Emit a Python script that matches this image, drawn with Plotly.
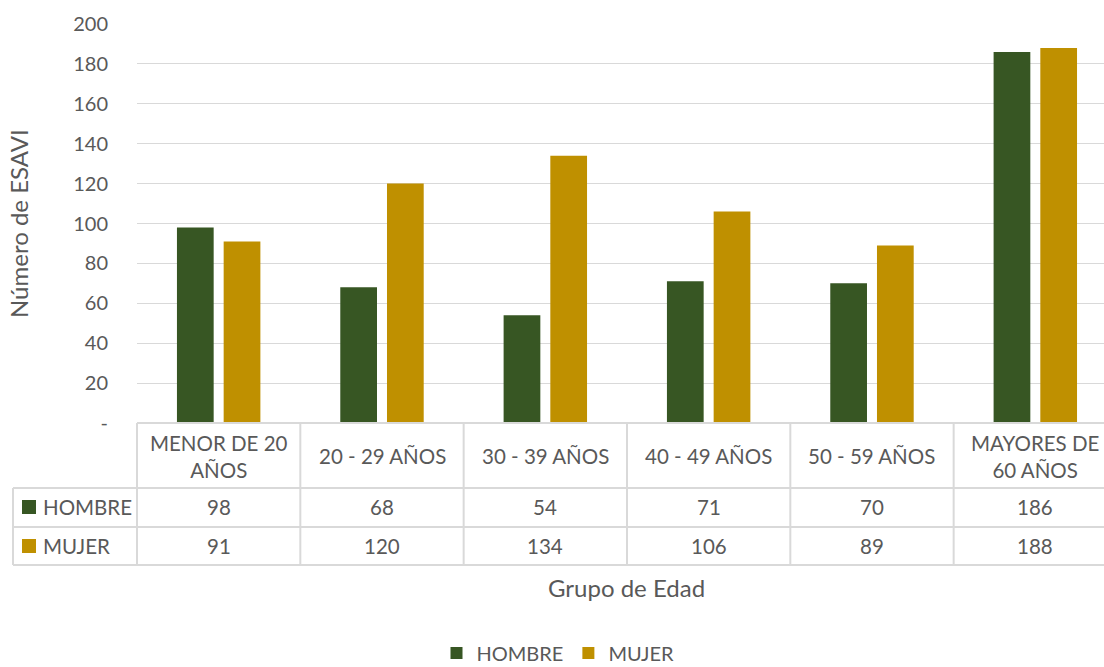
import plotly.graph_objects as go

categories = ["MENOR DE 20 AÑOS", "20 - 29 AÑOS", "30 - 39 AÑOS", "40 - 49 AÑOS", "50 - 59 AÑOS", "MAYORES DE 60 AÑOS"]
category_labels = ["MENOR DE 20<br>AÑOS", "20 - 29 AÑOS", "30 - 39 AÑOS", "40 - 49 AÑOS", "50 - 59 AÑOS", "MAYORES DE<br>60 AÑOS"]
hombre = [98, 68, 54, 71, 70, 186]
mujer = [91, 120, 134, 106, 89, 188]
series_names = ["HOMBRE", "MUJER"]
y_tickvals = [0, 20, 40, 60, 80, 100, 120, 140, 160, 180, 200]
y_ticktext = ["-", "20", "40", "60", "80", "100", "120", "140", "160", "180", "200"]

colors = ["#375623", "#BF9000"]
text_color = "#595959"
grid_color = "#D9D9D9"
FONT = "Lato"

W, H = 1104, 667
L, R, T, B = 137, 0, 24, 244
PW = W - L - R
PH = H - T - B
cat_w = 163.33

def px(xp):
    return (xp - L) / PW

def py(yp):
    return (H - B - yp) / PH

x_idx = list(range(len(categories)))

fig = go.Figure()
for name, vals, c in zip(series_names, [hombre, mujer], colors):
    fig.add_trace(go.Bar(x=x_idx, y=vals, name=name, marker=dict(color=c, line=dict(width=0))))

x_end = 5.5 - (cat_w * 6 - PW) / cat_w

shapes = []
line = dict(color=grid_color, width=2)
shapes.append(dict(type="line", xref="paper", yref="paper", x0=0, x1=1.02, y0=py(423), y1=py(423), line=line))
for yy in [488, 527, 565]:
    shapes.append(dict(type="line", xref="paper", yref="paper", x0=px(13), x1=1.02, y0=py(yy), y1=py(yy), line=line))
shapes.append(dict(type="line", xref="paper", yref="paper", x0=px(13), x1=px(13), y0=py(488), y1=py(565), line=line))
shapes.append(dict(type="line", xref="paper", yref="paper", x0=0, x1=0, y0=py(423), y1=py(565), line=line))
for i in range(len(categories) - 1):
    shapes.append(dict(type="line", xref="x", yref="paper", x0=i + 0.5, x1=i + 0.5, y0=py(423), y1=py(565), line=line))
for k, yy in enumerate([507, 546]):
    shapes.append(dict(type="rect", xref="paper", yref="paper", x0=px(22), x1=px(36), y0=py(yy - 7), y1=py(yy + 7),
                       fillcolor=colors[k], line=dict(width=0)))

annotations = []
tf = dict(family=FONT, size=20.5, color=text_color)
for i, lab in enumerate(category_labels):
    annotations.append(dict(xref="x", yref="paper", x=i, y=py(456), text=lab, showarrow=False, font=tf,
                            xanchor="center", yanchor="middle", align="center"))
    annotations.append(dict(xref="x", yref="paper", x=i, y=py(507), text=str(hombre[i]), showarrow=False, font=tf,
                            xanchor="center", yanchor="middle"))
    annotations.append(dict(xref="x", yref="paper", x=i, y=py(546), text=str(mujer[i]), showarrow=False, font=tf,
                            xanchor="center", yanchor="middle"))
for k, yy in enumerate([507, 546]):
    annotations.append(dict(xref="paper", yref="paper", x=px(41), y=py(yy), text=series_names[k], showarrow=False,
                            font=tf, xanchor="left", yanchor="middle"))
annotations.append(dict(xref="paper", yref="paper", x=px(18), y=py(224), text="Número de ESAVI", textangle=-90,
                        showarrow=False, font=dict(family=FONT, size=24, color=text_color), xanchor="center", yanchor="middle"))
annotations.append(dict(xref="paper", yref="paper", x=px(626), y=py(587), text="Grupo de Edad",
                        showarrow=False, font=dict(family=FONT, size=24, color=text_color), xanchor="center", yanchor="middle"))

fig.update_layout(
    width=W, height=H,
    margin=dict(l=L, r=R, t=T, b=B, autoexpand=False),
    paper_bgcolor="white", plot_bgcolor="white",
    barmode="group", bargap=0.428, bargroupgap=0.214,
    font=dict(family=FONT, size=20, color=text_color),
    xaxis=dict(range=[-0.5, x_end], showticklabels=False, showgrid=False, zeroline=False, showline=False, fixedrange=True),
    yaxis=dict(range=[0, 200], tickvals=y_tickvals, ticktext=y_ticktext, showgrid=True, gridcolor=grid_color, gridwidth=1,
               zeroline=False, showline=False, ticks="outside", ticklen=24, tickcolor="rgba(0,0,0,0)",
               tickfont=dict(family=FONT, size=20, color=text_color), automargin=False),
    showlegend=True,
    legend=dict(orientation="h", xref="paper", yref="paper", x=px(558), y=py(653), xanchor="center", yanchor="middle",
                font=dict(family=FONT, size=20, color=text_color), itemwidth=30, traceorder="normal",
                tracegroupgap=0, borderwidth=0),
    shapes=shapes, annotations=annotations,
)

fig.write_html("out.html", config={"displayModeBar": False},
               post_script="document.body.style.margin='0';document.body.style.overflow='hidden';")
